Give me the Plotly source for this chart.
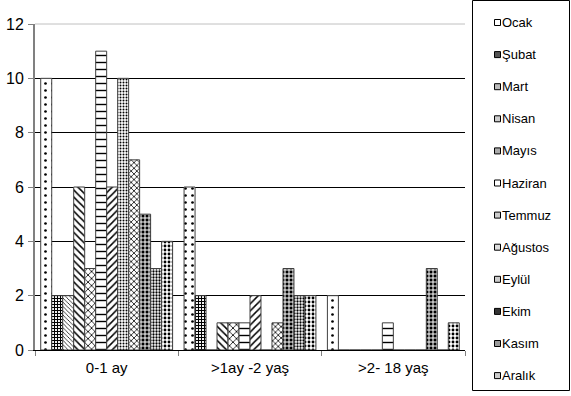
import plotly.graph_objects as go

# Age groups on the category axis
categories = ["0-1 ay", ">1ay -2 yaş", ">2- 18 yaş"]

# Monthly series (one bar per month in each age group)
months = ["Ocak", "Şubat", "Mart", "Nisan", "Mayıs", "Haziran",
          "Temmuz", "Ağustos", "Eylül", "Ekim", "Kasım", "Aralık"]

ocak = [10, 6, 2]
subat = [2, 2, 0]
mart = [2, 0, 0]
nisan = [6, 1, 0]
mayis = [3, 1, 0]
haziran = [11, 1, 1]
temmuz = [6, 2, 0]
agustos = [10, 0, 0]
eylul = [7, 1, 0]
ekim = [5, 3, 3]
kasim = [3, 2, 0]
aralik = [4, 2, 1]

series = [ocak, subat, mart, nisan, mayis, haziran,
          temmuz, agustos, eylul, ekim, kasim, aralik]

y_ticks = [0, 2, 4, 6, 8, 10, 12]

# Fill pattern per month: (shape, size, solidity, foreground, background)
patterns = [
    (".", 7, 0.12, "black", "white"),
    ("+", 3, 0.6, "black", "white"),
    ("\\", 3, 0.25, "black", "white"),
    ("\\", 5, 0.3, "black", "white"),
    ("x", 5, 0.3, "black", "white"),
    ("-", 7, 0.2, "black", "white"),
    ("/", 5, 0.3, "black", "white"),
    (".", 3, 0.35, "black", "white"),
    ("x", 4, 0.35, "black", "white"),
    ("+", 4, 0.45, "white", "black"),
    (".", 3, 0.45, "black", "white"),
    (".", 4, 0.4, "black", "white"),
]

# Swatch tint used in the hand-drawn legend
swatch_fill = ["white", "#555555", "#bbbbbb", "#cccccc", "#aaaaaa", "white",
               "#cccccc", "#dddddd", "#cccccc", "#333333", "#999999", "#cccccc"]

W, H = 571, 396
ML, MR, MT, MB = 35, 106, 24, 46
PW, PH = W - ML - MR, H - MT - MB


def px_x(px):
    return (px - ML) / PW


def px_y(py):
    return (H - MB - py) / PH


fig = go.Figure()
for name, vals, (shape, size, sol, fg, bg) in zip(months, series, patterns):
    fig.add_trace(go.Bar(
        x=categories, y=vals, name=name,
        marker=dict(
            color="white",
            line=dict(color="#404040", width=1),
            pattern=dict(shape=shape, size=size, solidity=sol,
                         fgcolor=fg, bgcolor=bg, fillmode="replace"),
        ),
    ))

shapes = [
    # top edge of the plot wall
    dict(type="line", xref="paper", yref="paper", x0=0, x1=1, y0=1, y1=1,
         line=dict(color="#c0c0c0", width=1)),
    # legend frame
    dict(type="rect", xref="paper", yref="paper",
         x0=px_x(472.5), x1=px_x(569.5), y0=px_y(390.5), y1=px_y(0.5),
         line=dict(color="black", width=1), fillcolor="white", layer="below"),
]
annotations = []
for i, name in enumerate(months):
    cy = 22.5 + 32.1 * i
    shapes.append(dict(
        type="rect", xref="paper", yref="paper",
        x0=px_x(494.5), x1=px_x(500.5), y0=px_y(cy + 3), y1=px_y(cy - 3),
        line=dict(color="black", width=1), fillcolor=swatch_fill[i],
    ))
    annotations.append(dict(
        xref="paper", yref="paper", x=px_x(500), y=px_y(cy),
        xanchor="left", yanchor="middle", text=name, showarrow=False,
        font=dict(size=13, color="black"),
    ))

fig.update_layout(
    width=W, height=H,
    margin=dict(l=ML, r=MR, t=MT, b=MB, autoexpand=False),
    paper_bgcolor="white", plot_bgcolor="white",
    barmode="group", bargap=0.08, bargroupgap=0,
    font=dict(family="Liberation Sans, Arial, sans-serif", size=14, color="black"),
    showlegend=False,
    shapes=shapes, annotations=annotations,
)

fig.update_xaxes(
    type="category", tickson="boundaries", ticks="outside", ticklen=5,
    tickcolor="#808080", showline=True, linecolor="black", automargin=False,
    showgrid=False, tickfont=dict(size=15), ticklabelstandoff=4,
)
fig.update_yaxes(
    range=[0, 12], tickvals=y_ticks, ticks="outside", ticklen=5,
    tickcolor="#808080", showline=True, linecolor="#808080", linewidth=2,
    showgrid=True, gridcolor="black", gridwidth=1, zeroline=False,
    tickfont=dict(size=16), ticklabelstandoff=1, automargin=False,
)

fig.write_html("out.html")
